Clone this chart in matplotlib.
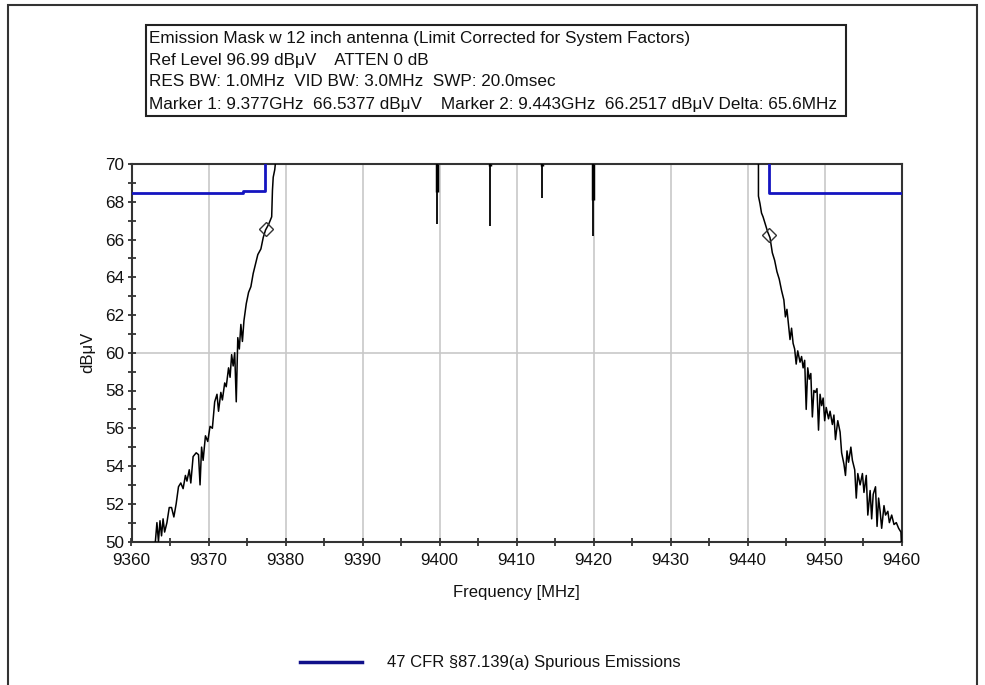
import matplotlib
matplotlib.use("Agg")
import matplotlib.pyplot as plt
from matplotlib.ticker import MultipleLocator
from matplotlib.patches import Rectangle
from matplotlib.lines import Line2D

plt.rcParams['font.family'] = ['Liberation Sans', 'DejaVu Sans']

# measured trace, lower band edge (MHz, dBuV)
left_freq = [9362.9, 9363.1, 9363.3, 9363.5, 9363.7, 9363.9, 9364.1, 9364.3, 9364.6, 9364.9,
             9365.2, 9365.5, 9365.8, 9366.1, 9366.4, 9366.7, 9367.0, 9367.2, 9367.5, 9367.7,
             9368.0, 9368.4, 9368.7, 9368.9, 9369.1, 9369.3, 9369.6, 9369.9, 9370.2, 9370.5,
             9370.8, 9371.1, 9371.3, 9371.6, 9371.8, 9372.1, 9372.3, 9372.6, 9372.8, 9373.0,
             9373.2, 9373.4, 9373.6, 9373.8, 9374.0, 9374.2, 9374.4, 9374.6, 9374.9, 9375.2,
             9375.5, 9375.8, 9376.1, 9376.4, 9376.8, 9377.1, 9377.4, 9377.8, 9378.2, 9378.3,
             9378.4, 9378.6, 9378.8]
left_level = [49.8, 50.0, 51.0, 50.0, 51.1, 50.3, 51.2, 50.5, 51.0, 51.8,
              51.8, 51.3, 52.0, 52.9, 53.1, 52.8, 53.5, 53.2, 53.8, 53.1,
              54.5, 54.7, 54.6, 53.0, 55.0, 54.3, 55.6, 55.3, 56.1, 56.0,
              57.4, 57.8, 56.9, 57.9, 57.5, 58.4, 58.2, 59.2, 58.7, 59.9,
              59.3, 60.0, 57.4, 60.8, 60.2, 61.5, 60.6, 61.7, 62.6, 63.2,
              63.5, 64.2, 64.7, 65.2, 65.5, 66.1, 66.5, 66.8, 67.2, 68.6,
              69.3, 69.7, 70.5]

# measured trace, upper band edge
right_freq = [9441.4, 9441.4, 9441.6, 9441.8, 9442.0, 9442.3, 9442.6, 9442.9, 9443.2, 9443.5,
              9443.8, 9444.1, 9444.4, 9444.7, 9444.9, 9445.1, 9445.3, 9445.5, 9445.7, 9445.9,
              9446.1, 9446.3, 9446.5, 9446.8, 9447.0, 9447.2, 9447.4, 9447.6, 9447.8, 9448.0,
              9448.2, 9448.4, 9448.6, 9448.8, 9449.0, 9449.2, 9449.4, 9449.6, 9449.8, 9450.0,
              9450.2, 9450.5, 9450.7, 9451.0, 9451.2, 9451.4, 9451.7, 9452.0, 9452.2, 9452.5,
              9452.7, 9452.9, 9453.1, 9453.4, 9453.6, 9453.9, 9454.1, 9454.3, 9454.6, 9454.9,
              9455.1, 9455.4, 9455.6, 9455.9, 9456.1, 9456.3, 9456.6, 9456.8, 9457.0, 9457.2,
              9457.4, 9457.7, 9457.9, 9458.2, 9458.4, 9458.7, 9459.0, 9459.3, 9459.6, 9459.9,
              9460.0]
right_level = [70.5, 68.3, 67.9, 67.4, 67.2, 66.8, 66.4, 66.1, 65.3, 64.9,
               64.3, 63.9, 63.3, 62.8, 61.9, 62.3, 61.5, 60.7, 61.3, 60.5,
               60.2, 59.4, 60.1, 59.5, 59.8, 59.2, 59.6, 57.0, 59.2, 58.6,
               58.9, 56.6, 58.0, 57.9, 58.1, 55.9, 57.8, 57.2, 57.6, 56.4,
               57.1, 56.5, 56.9, 56.2, 56.7, 55.4, 56.4, 55.8, 54.7, 54.1,
               53.5, 54.8, 54.2, 55.0, 54.3, 53.8, 52.3, 53.6, 53.0, 53.6,
               52.6, 53.5, 51.4, 52.7, 51.2, 52.5, 52.9, 50.8, 52.3, 51.6,
               50.7, 51.9, 51.4, 51.6, 51.0, 51.4, 50.9, 51.0, 50.7, 50.5,
               49.5]

# in-band dips reaching below the top of the screen
spike_freq = [9399.7, 9406.6, 9413.3, 9419.9]
spike_min = [66.8, 66.7, 68.2, 66.2]
spike_dense = [68.5, 69.9, 69.9, 68.1]

# limit mask
mask_left_freq = [9360, 9374.5, 9374.5, 9377.3, 9377.3]
mask_left_level = [68.45, 68.45, 68.55, 68.55, 72]
mask_right_freq = [9442.8, 9442.8, 9460]
mask_right_level = [72, 68.45, 68.45]

# markers
marker_freq = [9377.5, 9442.8]
marker_level = [66.54, 66.25]

info_lines = [
    "Emission Mask w 12 inch antenna (Limit Corrected for System Factors)",
    "Ref Level 96.99 dB\u03bcV    ATTEN 0 dB",
    "RES BW: 1.0MHz  VID BW: 3.0MHz  SWP: 20.0msec",
    "Marker 1: 9.377GHz  66.5377 dB\u03bcV    Marker 2: 9.443GHz  66.2517 dB\u03bcV Delta: 65.6MHz",
]
legend_label = "47 CFR \u00a787.139(a) Spurious Emissions"

W, H = 985, 685
fig = plt.figure(figsize=(W / 100, H / 100), dpi=100)

# outer frame
fig.patches.append(Rectangle((8 / W, -0.01), (977 - 8) / W, (H - 5) / H + 0.01,
                             transform=fig.transFigure, fill=False,
                             edgecolor='#333333', linewidth=1.5))

# info box
fig.patches.append(Rectangle((146 / W, 1 - 116 / H), (846 - 146) / W, (116 - 25) / H,
                             transform=fig.transFigure, fill=False,
                             edgecolor='#222222', linewidth=1.5))
for i, line in enumerate(info_lines):
    fig.text(149 / W, 1 - (38 + 22 * i) / H, line, fontsize=12.3,
             ha='left', va='center', color='#111111')

ax = fig.add_axes([131.5 / W, 1 - 541.5 / H, (901.7 - 131.5) / W, (541.5 - 164) / H])

ax.plot(mask_left_freq, mask_left_level, color='#1414c0', lw=2.0, zorder=3)
ax.plot(mask_right_freq, mask_right_level, color='#1414c0', lw=2.0, zorder=3)

ax.plot(left_freq, left_level, color='black', lw=1.1, zorder=4)
ax.plot(right_freq, right_level, color='black', lw=1.1, zorder=4)
ax.vlines(spike_freq, spike_min, 70, color='black', lw=1.3, zorder=4)
ax.vlines(spike_freq, spike_dense, 70, color='black', lw=2.5, zorder=4)

ax.plot(marker_freq, marker_level, linestyle='none', marker='D', markersize=7,
        markerfacecolor='none', markeredgecolor='#333333', markeredgewidth=1.0, zorder=5)

ax.set_xlim(9360, 9460)
ax.set_ylim(50, 70)
ax.xaxis.set_major_locator(MultipleLocator(10))
ax.xaxis.set_minor_locator(MultipleLocator(5))
ax.yaxis.set_major_locator(MultipleLocator(2))
ax.yaxis.set_minor_locator(MultipleLocator(1))
ax.grid(axis='x', which='major', color='#c8c8c8', lw=1.2, zorder=1)
ax.axhline(60, color='#c8c8c8', lw=1.2, zorder=1)

ax.tick_params(which='both', direction='inout', length=6, width=1.2, color='#222222',
               labelsize=12.3, labelcolor='#111111')
ax.tick_params(axis='x', pad=5)
ax.tick_params(axis='y', pad=2)
for sp in ax.spines.values():
    sp.set_color('#333333')
    sp.set_linewidth(1.5)

fig.text(88 / W, 1 - 352 / H, "dB\u03bcV", rotation=90, fontsize=12,
         ha='center', va='center', color='#111111')
fig.text(516 / W, 1 - 593 / H, "Frequency [MHz]", fontsize=12,
         ha='center', va='center', color='#111111')

# legend
fig.lines.append(Line2D([300 / W, 362 / W], [1 - 662 / H, 1 - 662 / H],
                        transform=fig.transFigure, color='#10108a', lw=2.5))
fig.text(387 / W, 1 - 662 / H, legend_label, fontsize=12, ha='left', va='center',
         color='#111111')

fig.savefig("out.png", dpi=100)
